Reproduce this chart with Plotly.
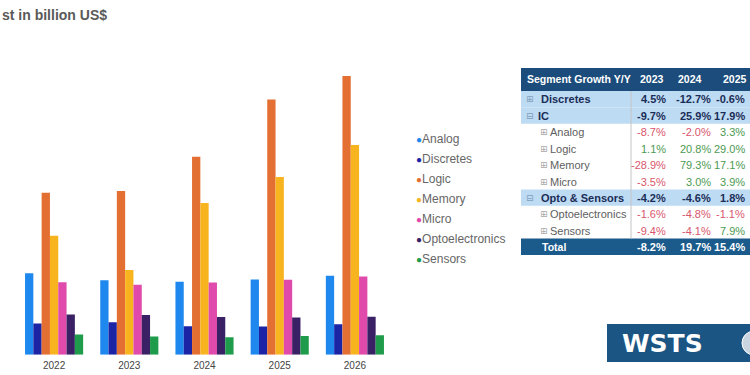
import plotly.graph_objects as go

W, H = 750, 375

# ---------------- data ----------------
years = ["2022", "2023", "2024", "2025", "2026"]
series_names = ["Analog", "Discretes", "Logic", "Memory", "Micro", "Optoelectronics", "Sensors"]
analog = [88.8, 81.2, 79.6, 82.1, 86.2]
discretes = [34.0, 35.5, 31.0, 30.7, 33.2]
logic = [176.6, 178.6, 215.8, 278.4, 304.0]
memory = [129.8, 92.3, 165.5, 193.8, 228.6]
micro = [79.1, 76.3, 78.6, 81.7, 85.3]
opto = [43.9, 43.2, 41.1, 40.7, 41.4]
sensors = [21.9, 19.8, 19.0, 20.4, 21.1]
series_values = [analog, discretes, logic, memory, micro, opto, sensors]
series_colors = ["#1e88ee", "#1c24a6", "#e46f33", "#f8b41f", "#df4aab", "#3a2064", "#1f9c4b"]

title_text = "st in billion US$"

table_header = ["Segment Growth Y/Y", "2023", "2024", "2025"]
row_labels = ["Discretes", "IC", "Analog", "Logic", "Memory", "Micro",
              "Opto & Sensors", "Optoelectronics", "Sensors", "Total"]
row_level = [1, 1, 2, 2, 2, 2, 1, 2, 2, 0]   # 1 = group, 2 = sub item, 0 = total
row_icon = ["⊞", "⊟", "⊞", "⊞", "⊞", "⊞", "⊟", "⊞", "⊞", ""]
growth_2023 = [4.5, -9.7, -8.7, 1.1, -28.9, -3.5, -4.2, -1.6, -9.4, -8.2]
growth_2024 = [-12.7, 25.9, -2.0, 20.8, 79.3, 3.0, -4.6, -4.8, -4.1, 19.7]
growth_2025 = [-0.6, 17.9, 3.3, 29.0, 17.1, 3.9, 1.8, -1.1, 7.9, 15.4]
growth_cols = [growth_2023, growth_2024, growth_2025]

# ---------------- helpers / styles ----------------
FONT = "Liberation Sans, Arial"


def px_x(p):
    return p / W


def px_y(p):
    return 1 - p / H


fig = go.Figure()

for name, vals, col in zip(series_names, series_values, series_colors):
    fig.add_trace(go.Bar(x=years, y=vals, name=name, marker=dict(color=col, line=dict(width=0)),
                         showlegend=False))

annotations = []
shapes = []


def txt(x, y, s, size, color, anchor="left", family=FONT):
    annotations.append(dict(x=px_x(x), y=px_y(y), xref="paper", yref="paper", xanchor=anchor,
                            yanchor="middle", showarrow=False, text=s,
                            font=dict(size=size, color=color, family=family)))


def rect(x0, y0, x1, y1, fill):
    shapes.append(dict(type="rect", xref="paper", yref="paper", x0=px_x(x0), x1=px_x(x1),
                       y0=px_y(y1), y1=px_y(y0), fillcolor=fill, line=dict(width=0), layer="above"))


# ---------------- table (drawn with shapes + text) ----------------
hdr_fill = "#1b4c7b"
tot_fill = "#1a5b8b"
grp_fill = "#bddbf3"
neg_col = "#d9566c"
pos_col = "#4c9a52"
grp_txt = "#1b2d57"
sub_txt = "#5e5e5e"

T_LEFT, T_RIGHT = 521, 750
HDR_TOP, HDR_BOT = 68, 91
ROW_H = 16.4
DIVIDER_X = 631
VAL_RIGHT = [668, 713, 747]
HDR_CENTER = [652, 690, 735]

rect(T_LEFT, HDR_TOP, T_RIGHT, HDR_BOT, hdr_fill)
txt(525, (HDR_TOP + HDR_BOT) / 2, f"<b>{table_header[0]}</b>", 10.5, "white")
for k in range(3):
    txt(HDR_CENTER[k], (HDR_TOP + HDR_BOT) / 2, f"<b>{table_header[k + 1]}</b>", 10.5, "white",
        anchor="center")

for i, lab in enumerate(row_labels):
    lvl = row_level[i]
    top = HDR_BOT + ROW_H * i
    mid = top + ROW_H / 2 + 0.3
    if lvl == 1:
        rect(T_LEFT, top, T_RIGHT, top + ROW_H, grp_fill)
        txt(524, mid, row_icon[i], 9, "#7f9fbd", family="DejaVu Sans")
        txt(536 if len(lab) < 4 else 539, mid, f"<b>{lab}</b>", 11, grp_txt)
    elif lvl == 2:
        txt(538, mid, row_icon[i], 9, "#a8a8a8", family="DejaVu Sans")
        txt(548, mid, lab, 11, sub_txt)
    else:
        rect(T_LEFT, top, T_RIGHT, top + ROW_H, tot_fill)
        txt(540, mid, f"<b>{lab}</b>", 10.5, "white")
    for k in range(3):
        v = growth_cols[k][i]
        s = f"{v:.1f}%"
        if lvl == 1:
            txt(VAL_RIGHT[k], mid, f"<b>{s}</b>", 11, grp_txt, anchor="right")
        elif lvl == 0:
            txt(VAL_RIGHT[k], mid, f"<b>{s}</b>", 11, "white", anchor="right")
        else:
            txt(VAL_RIGHT[k], mid, s, 11, neg_col if v < 0 else pos_col, anchor="right")

shapes.append(dict(type="line", xref="paper", yref="paper", x0=px_x(DIVIDER_X), x1=px_x(DIVIDER_X),
                   y0=px_y(HDR_BOT), y1=px_y(HDR_BOT + ROW_H * 9),
                   line=dict(color="#c4c4c4", width=1), layer="above"))

# ---------------- title & legend ----------------
txt(0, 15, f"<b>{title_text}</b>", 14, "#5a5a5a")

for i, (name, col) in enumerate(zip(series_names, series_colors)):
    txt(414, 139 + 20 * i, f"<span style='color:{col};font-size:10px'>●</span>{name}", 12, "#666666")

# ---------------- logo ----------------
shapes.append(dict(type="rect", xref="paper", yref="paper", x0=px_x(607), x1=1.0, y0=px_y(362),
                   y1=px_y(324), fillcolor="#1b5583", line=dict(width=0), layer="above"))
shapes.append(dict(type="circle", xref="paper", yref="paper", x0=px_x(742), x1=px_x(766),
                   y0=px_y(355), y1=px_y(331), fillcolor="#c9d6e2",
                   line=dict(color="#ffffff", width=1), layer="above"))
txt(662, 343, "<b>WSTS</b>", 25, "#ffffff", anchor="center", family="DejaVu Sans")

yr = 340
fig.update_layout(
    width=W, height=H,
    margin=dict(l=0, r=0, t=0, b=0),
    paper_bgcolor="white", plot_bgcolor="white",
    barmode="group", bargap=0.227, bargroupgap=0,
    xaxis=dict(domain=[px_x(16.5), px_x(392.5)], showgrid=False, zeroline=False, showline=False,
               ticks="", ticklabelstandoff=3,
               tickfont=dict(size=10, color="#444444", family=FONT),
               fixedrange=True),
    yaxis=dict(domain=[px_y(354.7), px_y(354.7 - yr * 0.917)], range=[0, yr], visible=False,
               showgrid=False, zeroline=False, fixedrange=True),
    annotations=annotations,
    shapes=shapes,
    showlegend=False,
    font=dict(family=FONT),
)

fig.write_html("out.html")
